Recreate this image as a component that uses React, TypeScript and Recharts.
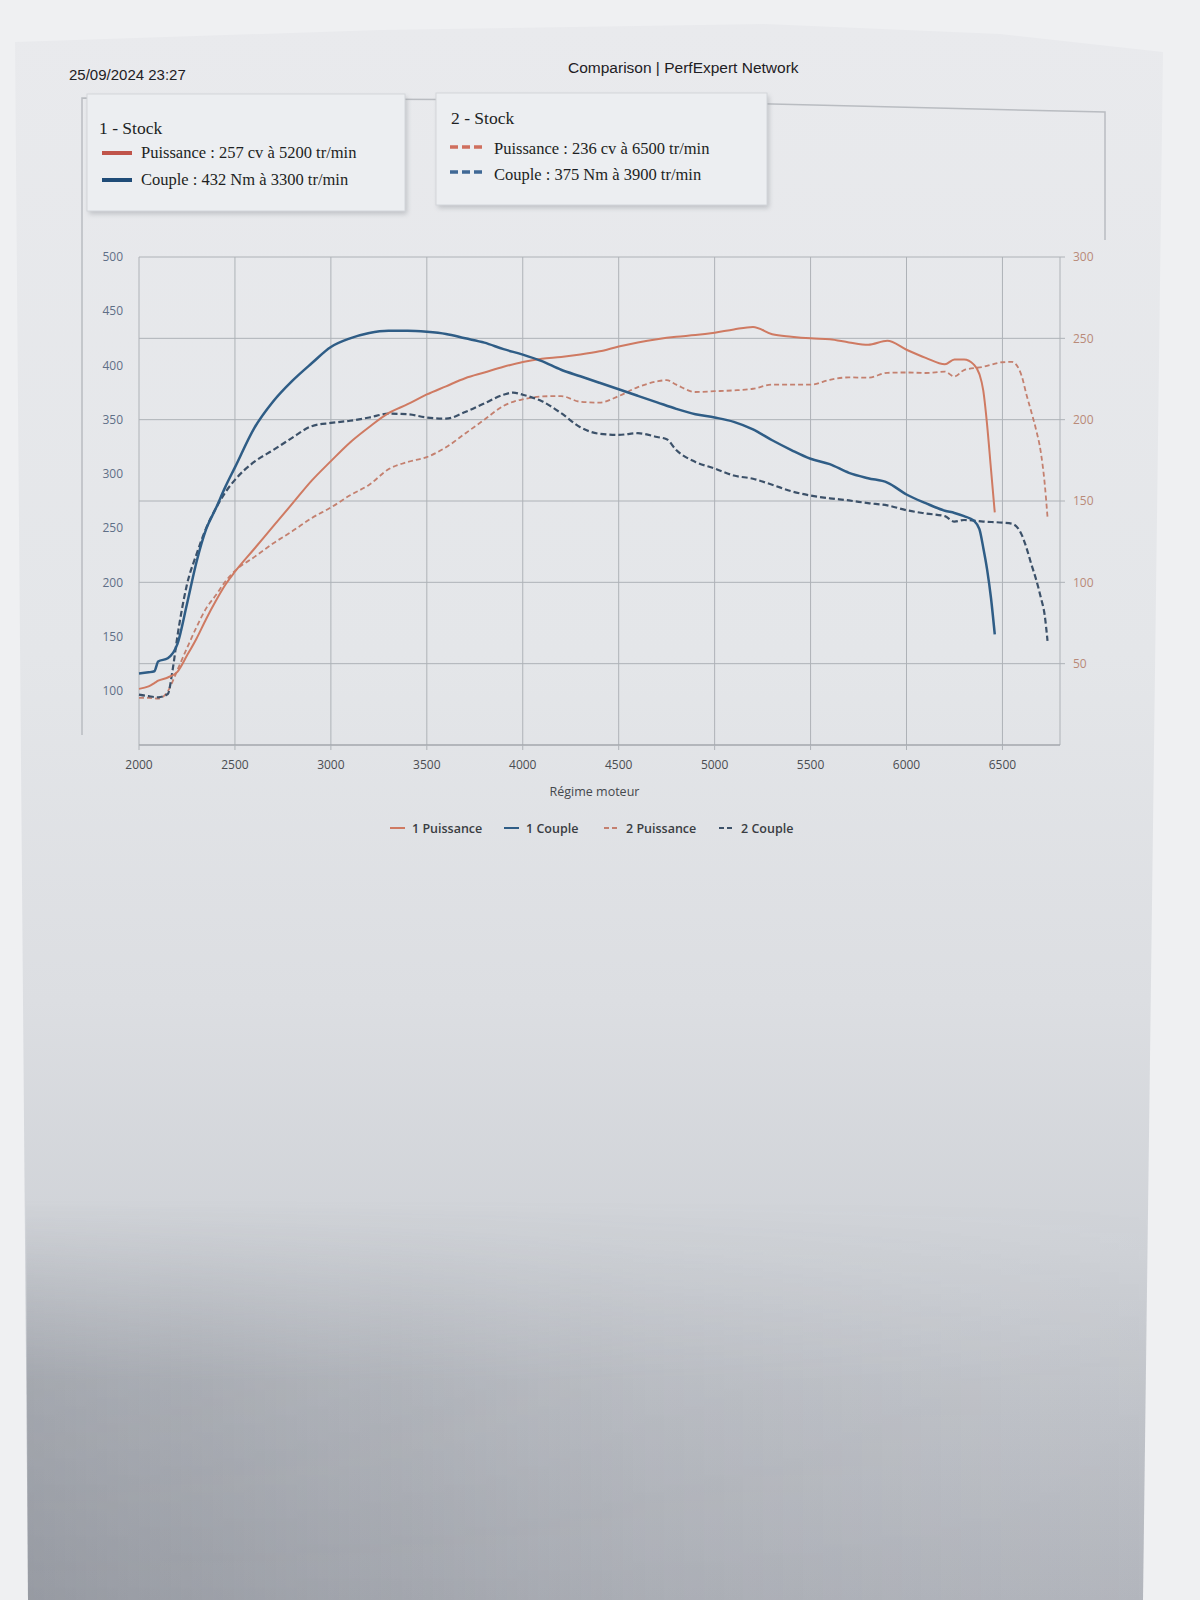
import React from 'react';
import { LineChart, Line, XAxis, YAxis, CartesianGrid, Legend } from 'recharts';

// ---------- Run 1 (Stock) ----------
const rpm1 = [2000, 2050, 2080, 2100, 2150, 2200, 2250, 2300, 2350, 2400, 2450, 2500, 2600, 2700, 2800, 2900, 3000, 3100, 3200, 3300, 3400, 3500, 3600, 3700, 3800, 3900, 4000, 4100, 4200, 4300, 4400, 4500, 4600, 4700, 4800, 4900, 5000, 5100, 5200, 5300, 5400, 5500, 5600, 5700, 5800, 5900, 6000, 6100, 6200, 6250, 6300, 6350, 6380, 6400, 6420, 6440, 6460];
const power1 = [34.5, 36, 38, 39.5, 41.5, 45, 55, 65.5, 77.5, 88.5, 98.5, 106.5, 120.5, 134.5, 148.5, 162.5, 174.5, 186, 195.5, 204, 209.5, 215.5, 220.5, 225.5, 229, 232.5, 235.5, 237.5, 238.5, 240, 242, 245, 247.5, 249.5, 251, 252, 253.5, 255.5, 257, 252.5, 251, 250, 249.5, 247.5, 246, 248.5, 243, 238, 234, 237, 237, 234, 228, 218, 197, 170, 143];
const torque1 = [116, 117, 118, 127, 130, 143, 180, 219, 249, 268, 288, 306, 342, 367, 386, 402, 417, 425, 430, 432, 432, 431, 429, 425, 421, 415, 410, 404, 396, 390, 384, 378, 372, 366, 360, 355, 352, 348, 341, 331, 322, 314, 309, 301, 296, 292, 281, 273, 266, 264, 261, 257, 249, 232, 212, 186, 152];

// ---------- Run 2 (Stock) ----------
const rpm2 = [2000, 2050, 2100, 2150, 2175, 2200, 2250, 2300, 2350, 2400, 2450, 2500, 2600, 2700, 2800, 2900, 3000, 3100, 3200, 3300, 3400, 3500, 3600, 3700, 3800, 3900, 3950, 4000, 4100, 4200, 4300, 4400, 4500, 4600, 4700, 4750, 4800, 4900, 5000, 5100, 5200, 5300, 5400, 5500, 5600, 5700, 5800, 5900, 6000, 6100, 6200, 6250, 6300, 6400, 6500, 6550, 6600, 6625, 6650, 6675, 6700, 6720, 6735];
const power2 = [29, 29, 28.5, 33, 39, 46, 59.5, 72.5, 84, 92, 100.5, 107, 115.5, 124, 131.5, 139.5, 146, 153.5, 160, 169.5, 174, 177, 183, 191.5, 200, 208.5, 211, 212.5, 214.3, 214.5, 211, 210.5, 214.5, 220, 223.5, 224.3, 221.5, 217, 217.5, 218, 219, 221.6, 221.6, 221.5, 224.5, 226, 225.8, 228.8, 229, 228.7, 229.5, 226.5, 230.5, 232.5, 235.3, 235.5, 227, 215.5, 205, 194, 180, 161, 140];
const torque2 = [96.5, 95, 94, 97, 119, 150, 198, 226, 250, 268, 283, 294.5, 311, 322, 333.5, 344, 347, 349, 352, 355.5, 355, 352, 351, 357, 365, 373, 375, 373, 367, 356, 343, 337, 336, 337.5, 334, 332, 322, 311, 305, 298.5, 295.5, 290, 284, 280, 277.5, 275.5, 273, 271, 266.5, 263.5, 261, 256, 257.5, 256, 255, 254, 244, 232, 217, 203, 186, 170, 146];

// ---------- Axis ticks ----------
const xTicks = [2000, 2500, 3000, 3500, 4000, 4500, 5000, 5500, 6000, 6500];
const torqueTicks = [100, 150, 200, 250, 300, 350, 400, 450, 500];
const powerTicks = [50, 100, 150, 200, 250, 300];

// ---------- Series meta ----------
const seriesNames = ['1 Puissance', '1 Couple', '2 Puissance', '2 Couple'];

const C_P1 = '#cf7a62';
const C_T1 = '#2f5d86';
const C_P2 = '#c4806f';
const C_T2 = '#3c5169';

function buildData() {
  const map = new Map<number, any>();
  rpm1.forEach((r, i) => {
    const o = map.get(r) || { rpm: r };
    o.p1 = power1[i];
    o.t1 = torque1[i];
    map.set(r, o);
  });
  rpm2.forEach((r, i) => {
    const o = map.get(r) || { rpm: r };
    o.p2 = power2[i];
    o.t2 = torque2[i];
    map.set(r, o);
  });
  return Array.from(map.values()).sort((a, b) => a.rpm - b.rpm);
}

const data = buildData();

const BottomLegend = () => {
  const items = [
    { label: seriesNames[0], color: C_P1, dashed: false, x: 390 },
    { label: seriesNames[1], color: C_T1, dashed: false, x: 504 },
    { label: seriesNames[2], color: C_P2, dashed: true, x: 604 },
    { label: seriesNames[3], color: C_T2, dashed: true, x: 719 },
  ];
  return (
    <div style={{ position: 'relative', width: 1200, height: 22 }}>
      {items.map((it) => (
        <div
          key={it.label}
          style={{
            position: 'absolute',
            left: it.x,
            top: 0,
            height: 22,
            display: 'flex',
            alignItems: 'center',
            fontFamily: '"Open Sans", sans-serif',
            fontSize: 12.5,
            fontWeight: 600,
            color: '#3a3d42',
            whiteSpace: 'nowrap',
          }}
        >
          <svg width={15} height={6} style={{ marginRight: 7 }}>
            <line
              x1={0}
              y1={3}
              x2={15}
              y2={3}
              stroke={it.color}
              strokeWidth={2}
              strokeDasharray={it.dashed ? '5 3' : undefined}
            />
          </svg>
          {it.label}
        </div>
      ))}
    </div>
  );
};

const Background = () => (
  <svg width={1200} height={1600} style={{ position: 'absolute', left: 0, top: 0 }}>
    <defs>
      <linearGradient id="paper" x1="0" y1="0" x2="0" y2="1">
        <stop offset="0%" stopColor="#e9eaed" />
        <stop offset="40%" stopColor="#e4e6e9" />
        <stop offset="62%" stopColor="#dcdee2" />
        <stop offset="78%" stopColor="#cfd2d7" />
        <stop offset="88%" stopColor="#c2c5cb" />
        <stop offset="100%" stopColor="#b5b8bf" />
      </linearGradient>
      <linearGradient id="shade" x1="0" y1="0" x2="1" y2="0">
        <stop offset="0%" stopColor="#5f646e" stopOpacity="0.35" />
        <stop offset="55%" stopColor="#5f646e" stopOpacity="0.12" />
        <stop offset="100%" stopColor="#5f646e" stopOpacity="0.02" />
      </linearGradient>
      <linearGradient id="fadeV" x1="0" y1="0" x2="0" y2="1">
        <stop offset="0%" stopColor="#ffffff" stopOpacity="0" />
        <stop offset="45%" stopColor="#ffffff" stopOpacity="0.9" />
        <stop offset="100%" stopColor="#ffffff" stopOpacity="1" />
      </linearGradient>
      <mask id="fadeMask">
        <rect x={0} y={1200} width={1200} height={400} fill="url(#fadeV)" />
      </mask>
      <filter id="blur" x="-10%" y="-10%" width="120%" height="130%">
        <feGaussianBlur stdDeviation="2.5" />
      </filter>
    </defs>
    <rect x={0} y={0} width={1200} height={1600} fill="#eff0f2" />
    <polygon points="15,42 380,30 765,24 1000,34 1163,52 1143,1600 28,1600" fill="url(#paper)" />
    <polygon points="26,1200 1147,1200 1143,1600 28,1600" fill="url(#shade)" mask="url(#fadeMask)" />

    {/* page frame */}
    <path d="M82,735 L82,98 L600,100 L1105,112 L1105,240" fill="none" stroke="#b9bcc1" strokeWidth={1.5} />

    {/* header */}
    <text x={69} y={80} fontFamily='"Liberation Sans", Arial, sans-serif' fontSize={15} fill="#1e2024">
      25/09/2024 23:27
    </text>
    <text x={568} y={73} fontFamily='"Liberation Sans", Arial, sans-serif' fontSize={15.5} fill="#1e2024">
      Comparison | PerfExpert Network
    </text>

    {/* legend box 1 */}
    <rect x={89} y={97} width={318} height={117} fill="#8c9096" opacity={0.45} filter="url(#blur)" />
    <rect x={87} y={94} width={318} height={117} fill="#eceef1" stroke="#d3d6da" strokeWidth={1} />
    <text x={99} y={134} fontFamily='"Liberation Serif", "Times New Roman", serif' fontSize={17.5} fill="#1d1f23">
      1 - Stock
    </text>
    <rect x={102} y={151} width={30} height={4} fill="#c0544a" />
    <text x={141} y={158} fontFamily='"Liberation Serif", "Times New Roman", serif' fontSize={16.5} fill="#1d1f23">
      Puissance : 257 cv à 5200 tr/min
    </text>
    <rect x={102} y={178} width={30} height={4} fill="#1f4c78" />
    <text x={141} y={185} fontFamily='"Liberation Serif", "Times New Roman", serif' fontSize={16.5} fill="#1d1f23">
      Couple : 432 Nm à 3300 tr/min
    </text>

    {/* legend box 2 */}
    <rect x={438} y={96} width={331} height={112} fill="#8c9096" opacity={0.45} filter="url(#blur)" />
    <rect x={436} y={93} width={331} height={112} fill="#eceef1" stroke="#d3d6da" strokeWidth={1} />
    <text x={451} y={124} fontFamily='"Liberation Serif", "Times New Roman", serif' fontSize={17.5} fill="#1d1f23">
      2 - Stock
    </text>
    <line x1={450} y1={147} x2={484} y2={147} stroke="#cf6f5e" strokeWidth={3.5} strokeDasharray="8 4" />
    <text x={494} y={154} fontFamily='"Liberation Serif", "Times New Roman", serif' fontSize={16.5} fill="#1d1f23">
      Puissance : 236 cv à 6500 tr/min
    </text>
    <line x1={450} y1={172} x2={484} y2={172} stroke="#3f6895" strokeWidth={3.5} strokeDasharray="8 4" />
    <text x={494} y={180} fontFamily='"Liberation Serif", "Times New Roman", serif' fontSize={16.5} fill="#1d1f23">
      Couple : 375 Nm à 3900 tr/min
    </text>
  </svg>
);

export default function App() {
  return (
    <div style={{ position: 'absolute', left: 0, top: 0, width: 1200, height: 1600, overflow: 'hidden' }}>
      <Background />
      <div style={{ position: 'absolute', left: 0, top: 0 }}>
        <LineChart width={1200} height={850} data={data} margin={{ top: 257, right: 80, bottom: 53, left: 79 }}>
          <CartesianGrid
            xAxisId="x"
            yAxisId="right"
            stroke="#aeb2b7"
            strokeWidth={1}
            vertical={true}
            horizontal={true}
          />
          <XAxis
            xAxisId="x"
            dataKey="rpm"
            type="number"
            domain={[2000, 6800]}
            ticks={xTicks}
            height={52}
            axisLine={{ stroke: '#9ea2a8', strokeWidth: 1.2 }}
            tickLine={{ stroke: '#aeb2b7' }}
            tickSize={5}
            tickMargin={10}
            tick={{ fill: '#4a4d52', fontSize: 12, fontFamily: '"Open Sans", sans-serif' }}
            label={{
              value: 'Régime moteur',
              position: 'insideBottom',
              offset: 1,
              dx: -5,
              fill: '#45484d',
              fontSize: 12.5,
              fontFamily: '"Open Sans", sans-serif',
            }}
          />
          <YAxis
            yAxisId="left"
            orientation="left"
            type="number"
            domain={[50, 500]}
            ticks={torqueTicks}
            width={60}
            axisLine={false}
            tickLine={false}
            tickMargin={10}
            tick={{ fill: '#5f6f87', fontSize: 12, fontFamily: '"Open Sans", sans-serif' }}
          />
          <YAxis
            yAxisId="right"
            orientation="right"
            type="number"
            domain={[0, 300]}
            ticks={powerTicks}
            width={60}
            axisLine={false}
            tickLine={{ stroke: '#aeb2b7' }}
            tickSize={5}
            tickMargin={8}
            tick={{ fill: '#b98a79', fontSize: 12, fontFamily: '"Open Sans", sans-serif' }}
          />
          <Line
            xAxisId="x"
            yAxisId="right"
            type="monotone"
            dataKey="p2"
            name={seriesNames[2]}
            stroke={C_P2}
            strokeWidth={1.8}
            strokeDasharray="5 3"
            dot={false}
            connectNulls
            isAnimationActive={false}
          />
          <Line
            xAxisId="x"
            yAxisId="left"
            type="monotone"
            dataKey="t2"
            name={seriesNames[3]}
            stroke={C_T2}
            strokeWidth={2.2}
            strokeDasharray="6 3"
            dot={false}
            connectNulls
            isAnimationActive={false}
          />
          <Line
            xAxisId="x"
            yAxisId="right"
            type="monotone"
            dataKey="p1"
            name={seriesNames[0]}
            stroke={C_P1}
            strokeWidth={2}
            dot={false}
            connectNulls
            isAnimationActive={false}
          />
          <Line
            xAxisId="x"
            yAxisId="left"
            type="monotone"
            dataKey="t1"
            name={seriesNames[1]}
            stroke={C_T1}
            strokeWidth={2.5}
            dot={false}
            connectNulls
            isAnimationActive={false}
          />
          <Legend
            layout="horizontal"
            align="center"
            verticalAlign="middle"
            wrapperStyle={{ top: 817, left: 0, width: 1200 }}
            content={() => <BottomLegend />}
          />
        </LineChart>
      </div>
    </div>
  );
}
